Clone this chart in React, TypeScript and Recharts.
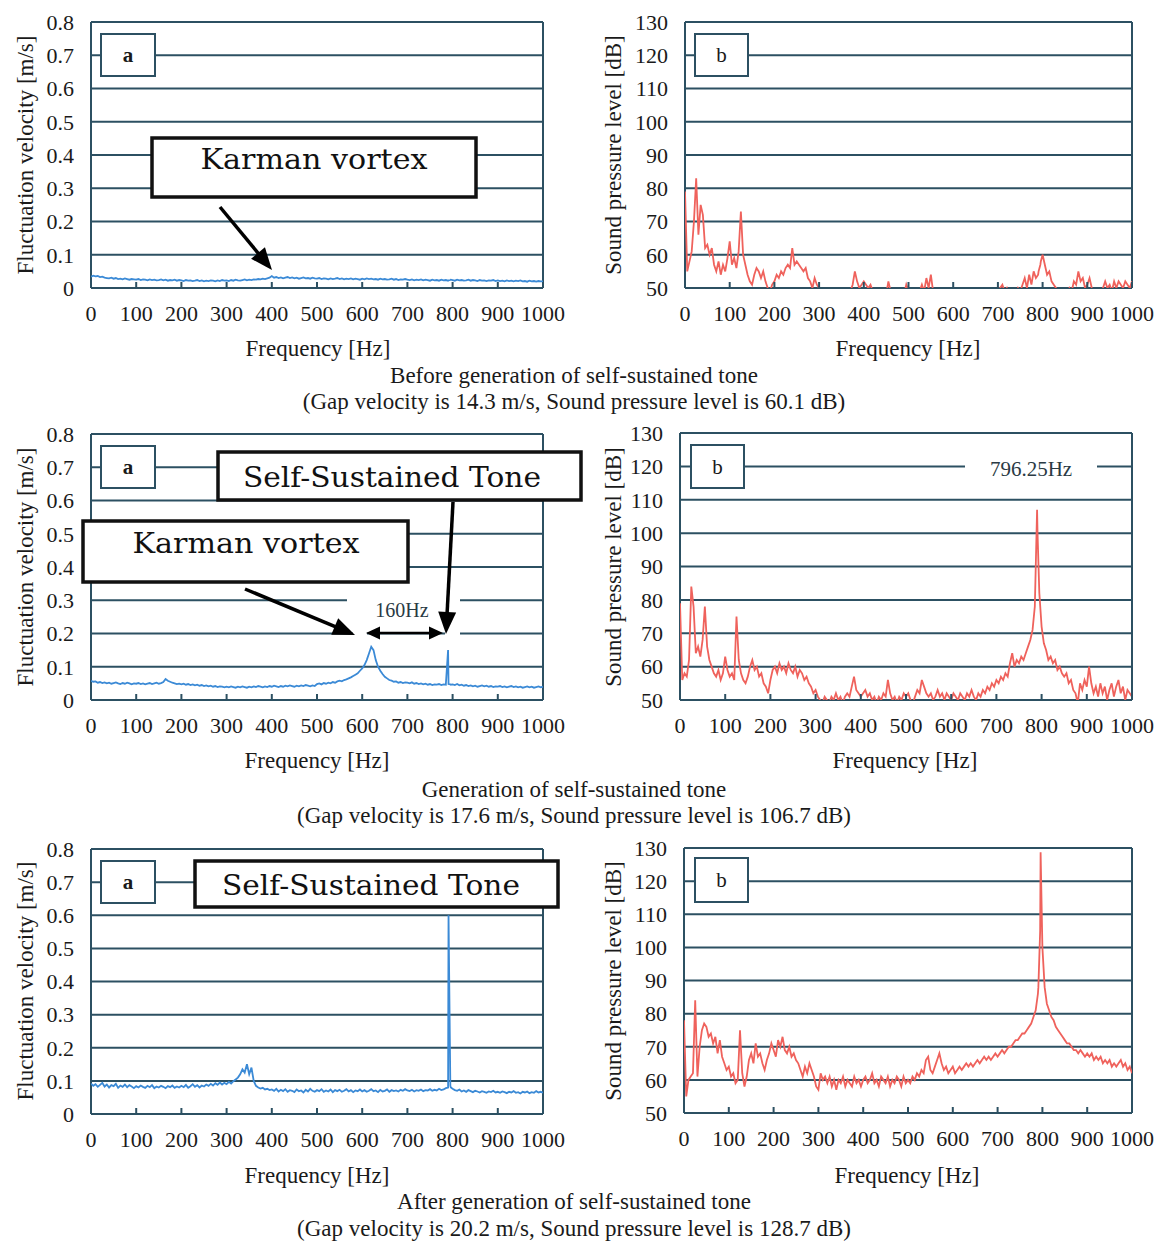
import React from 'react';
import { LineChart, Line, XAxis, YAxis, CartesianGrid } from 'recharts';

// Frequency grid [Hz]
const FREQ = [
  0, 5, 10, 15, 20, 25, 30, 35, 40, 45, 50, 55, 60, 65, 70, 75, 80, 85, 90, 95,
  100, 105, 110, 115, 120, 125, 130, 135, 140, 145, 150, 155, 160, 165, 170, 175, 180, 185, 190, 195,
  200, 205, 210, 215, 220, 225, 230, 235, 240, 245, 250, 255, 260, 265, 270, 275, 280, 285, 290, 295,
  300, 305, 310, 315, 320, 325, 330, 335, 340, 345, 350, 355, 360, 365, 370, 375, 380, 385, 390, 395,
  400, 405, 410, 415, 420, 425, 430, 435, 440, 445, 450, 455, 460, 465, 470, 475, 480, 485, 490, 495,
  500, 505, 510, 515, 520, 525, 530, 535, 540, 545, 550, 555, 560, 565, 570, 575, 580, 585, 590, 595,
  600, 605, 610, 615, 620, 625, 630, 635, 640, 645, 650, 655, 660, 665, 670, 675, 680, 685, 690, 695,
  700, 705, 710, 715, 720, 725, 730, 735, 740, 745, 750, 755, 760, 765, 770, 775, 780, 785, 790, 791, 795, 796,
  800, 805, 810, 815, 820, 825, 830, 835, 840, 845, 850, 855, 860, 865, 870, 875, 880, 885, 890, 895,
  900, 905, 910, 915, 920, 925, 930, 935, 940, 945, 950, 955, 960, 965, 970, 975, 980, 985, 990, 995, 1000,
];

// Before generation: fluctuation velocity [m/s]
const VEL_BEFORE = [
  0.034, 0.037, 0.035, 0.036, 0.033, 0.034, 0.031, 0.030, 0.029, 0.031, 0.028, 0.030, 0.027, 0.028, 0.026, 0.029, 0.027, 0.025, 0.027, 0.026,
  0.025, 0.027, 0.024, 0.026, 0.025, 0.023, 0.026, 0.024, 0.025, 0.023, 0.024, 0.026, 0.023, 0.025, 0.022, 0.024, 0.023, 0.025, 0.022, 0.024,
  0.023, 0.021, 0.024, 0.022, 0.023, 0.021, 0.022, 0.024, 0.021, 0.023, 0.020, 0.022, 0.021, 0.023, 0.022, 0.020, 0.023, 0.021, 0.024, 0.022,
  0.023, 0.021, 0.024, 0.022, 0.025, 0.023, 0.022, 0.024, 0.026, 0.023, 0.025, 0.024, 0.026, 0.025, 0.027, 0.026, 0.028, 0.027, 0.029, 0.031,
  0.036, 0.031, 0.033, 0.030, 0.032, 0.029, 0.031, 0.033, 0.030, 0.032, 0.029, 0.031, 0.028, 0.030, 0.032, 0.029, 0.030, 0.028, 0.031, 0.029,
  0.028, 0.030, 0.027, 0.029, 0.028, 0.026, 0.029, 0.027, 0.028, 0.030, 0.027, 0.029, 0.026, 0.028, 0.027, 0.029, 0.026, 0.028, 0.027, 0.025,
  0.028, 0.026, 0.029, 0.027, 0.028, 0.026, 0.027, 0.025, 0.028, 0.026, 0.027, 0.025, 0.026, 0.028, 0.025, 0.027, 0.024, 0.026, 0.025, 0.027,
  0.025, 0.024, 0.026, 0.023, 0.025, 0.024, 0.026, 0.023, 0.025, 0.024, 0.022, 0.025, 0.023, 0.024, 0.022, 0.025, 0.023, 0.024, 0.022, 0.023, 0.024, 0.025,
  0.024, 0.022, 0.025, 0.023, 0.024, 0.022, 0.023, 0.025, 0.022, 0.024, 0.023, 0.021, 0.024, 0.022, 0.023, 0.021, 0.023, 0.022, 0.024, 0.021,
  0.023, 0.021, 0.022, 0.020, 0.023, 0.021, 0.022, 0.020, 0.022, 0.021, 0.023, 0.020, 0.021, 0.019, 0.022, 0.020, 0.021, 0.019, 0.021, 0.020, 0.020,
];

// Before generation: sound pressure level [dB]
const SPL_BEFORE = [
  79, 55, 58, 61, 70, 83, 66, 75, 72, 62, 63, 60, 62, 57, 55, 58, 54, 57, 55, 59,
  64, 57, 59, 56, 61, 73, 60, 57, 54, 52, 51, 54, 56, 55, 53, 55, 52, 50, 49, 51,
  52, 54, 53, 55, 54, 56, 57, 56, 62, 57, 58, 57, 56, 55, 56, 53, 52, 50, 53, 51,
  50, 48, 47, 48, 46, 47, 48, 46, 47, 45, 47, 46, 48, 47, 49, 51, 55, 52, 50, 51,
  52, 51, 50, 51, 49, 47, 48, 46, 47, 45, 48, 52, 49, 47, 46, 48, 47, 45, 48, 51,
  49, 47, 46, 48, 47, 49, 51, 49, 53, 50, 54, 49, 47, 46, 48, 45, 47, 46, 48, 47,
  49, 47, 46, 45, 47, 46, 48, 45, 46, 44, 47, 46, 45, 47, 46, 48, 46, 47, 48, 49,
  48, 50, 51, 49, 50, 48, 47, 49, 48, 50, 49, 51, 53, 50, 54, 51, 55, 53, 54, 55, 57, 58,
  60, 57, 54, 55, 52, 51, 50, 48, 47, 49, 47, 48, 50, 49, 52, 51, 55, 52, 53, 50,
  51, 53, 50, 48, 47, 49, 48, 50, 52, 50, 51, 49, 52, 50, 52, 51, 50, 52, 51, 50, 52,
];

// Generation: fluctuation velocity [m/s]
const VEL_GEN = [
  0.058, 0.055, 0.056, 0.052, 0.054, 0.051, 0.053, 0.050, 0.052, 0.049, 0.051, 0.053, 0.050, 0.048, 0.051, 0.049, 0.052, 0.050, 0.047, 0.050,
  0.049, 0.051, 0.048, 0.050, 0.047, 0.049, 0.051, 0.048, 0.050, 0.052, 0.049, 0.051, 0.054, 0.063, 0.058, 0.055, 0.052, 0.050, 0.048, 0.049,
  0.047, 0.049, 0.046, 0.048, 0.045, 0.047, 0.044, 0.046, 0.043, 0.045, 0.042, 0.044, 0.041, 0.043, 0.040, 0.042, 0.039, 0.041, 0.040, 0.038,
  0.040, 0.038, 0.041, 0.039, 0.037, 0.040, 0.038, 0.041, 0.039, 0.037, 0.040, 0.038, 0.041, 0.039, 0.042, 0.040, 0.038, 0.041, 0.039, 0.042,
  0.040, 0.043, 0.041, 0.039, 0.042, 0.040, 0.043, 0.041, 0.044, 0.042, 0.040, 0.043, 0.041, 0.044, 0.042, 0.045, 0.043, 0.041, 0.044, 0.042,
  0.048, 0.050, 0.047, 0.051, 0.049, 0.052, 0.050, 0.054, 0.052, 0.056, 0.058, 0.056, 0.060, 0.062, 0.065, 0.068, 0.072, 0.076, 0.080, 0.088,
  0.095, 0.105, 0.120, 0.140, 0.160, 0.150, 0.120, 0.100, 0.088, 0.078, 0.070, 0.065, 0.060, 0.058, 0.055, 0.056, 0.052, 0.054, 0.051, 0.053,
  0.052, 0.050, 0.053, 0.049, 0.051, 0.048, 0.050, 0.047, 0.049, 0.046, 0.048, 0.045, 0.047, 0.046, 0.048, 0.045, 0.047, 0.046, 0.150, 0.048, 0.047, 0.046,
  0.047, 0.045, 0.048, 0.044, 0.046, 0.043, 0.045, 0.042, 0.044, 0.041, 0.043, 0.040, 0.042, 0.044, 0.041, 0.043, 0.040, 0.042, 0.039, 0.041,
  0.040, 0.042, 0.039, 0.041, 0.038, 0.040, 0.042, 0.039, 0.041, 0.038, 0.040, 0.037, 0.039, 0.041, 0.038, 0.040, 0.037, 0.039, 0.041, 0.038, 0.040,
];

// Generation: sound pressure level [dB]
const SPL_GEN = [
  79, 56, 58, 57, 62, 84, 78, 64, 66, 63, 68, 78, 66, 62, 60, 58, 57, 59, 56, 58,
  63, 59, 57, 58, 56, 75, 62, 58, 56, 55, 57, 60, 62, 59, 60, 57, 58, 55, 54, 52,
  56, 59, 60, 58, 61, 59, 60, 58, 61, 59, 58, 60, 57, 59, 58, 56, 57, 55, 54, 52,
  53, 51, 50, 49, 51, 50, 49, 51, 50, 52, 50, 51, 49, 51, 52, 51, 54, 57, 53, 52,
  51, 52, 53, 51, 52, 50, 51, 49, 51, 50, 52, 51, 56, 52, 50, 51, 49, 51, 50, 52,
  51, 52, 50, 49, 51, 53, 52, 56, 54, 52, 51, 52, 50, 51, 53, 51, 52, 50, 52, 51,
  50, 52, 51, 50, 52, 51, 50, 52, 51, 53, 51, 50, 52, 51, 53, 52, 54, 53, 55, 54,
  56, 55, 57, 56, 58, 57, 61, 64, 60, 62, 61, 63, 62, 64, 66, 68, 71, 78, 107, 100, 82, 80,
  72, 67, 65, 62, 63, 61, 62, 59, 60, 58, 57, 58, 55, 56, 53, 52, 49, 55, 53, 56,
  54, 60, 55, 52, 54, 51, 55, 52, 54, 50, 53, 55, 51, 54, 56, 52, 54, 50, 53, 52, 51,
];

// After generation: fluctuation velocity [m/s]
const VEL_AFTER = [
  0.092, 0.085, 0.090, 0.082, 0.088, 0.094, 0.083, 0.089, 0.080, 0.087, 0.084, 0.091, 0.079, 0.086, 0.082, 0.089, 0.081, 0.087, 0.083, 0.078,
  0.084, 0.080, 0.086, 0.082, 0.079, 0.085, 0.081, 0.087, 0.078, 0.083, 0.080, 0.085, 0.082, 0.078, 0.084, 0.081, 0.086, 0.079, 0.083, 0.080,
  0.085, 0.081, 0.088, 0.079, 0.084, 0.090, 0.082, 0.087, 0.080, 0.086, 0.083, 0.089, 0.085, 0.091, 0.086, 0.093, 0.088, 0.095, 0.089, 0.094,
  0.090, 0.097, 0.092, 0.099, 0.104, 0.110, 0.120, 0.135, 0.125, 0.150, 0.120, 0.140, 0.100, 0.085, 0.080, 0.077, 0.079, 0.074, 0.076, 0.072,
  0.074, 0.070, 0.076, 0.068, 0.073, 0.069, 0.075, 0.067, 0.072, 0.070, 0.066, 0.074, 0.069, 0.071, 0.065, 0.073, 0.068, 0.076, 0.070, 0.067,
  0.072, 0.069, 0.075, 0.067, 0.071, 0.068, 0.074, 0.066, 0.072, 0.069, 0.073, 0.067, 0.070, 0.075, 0.068, 0.072, 0.066, 0.071, 0.069, 0.074,
  0.068, 0.072, 0.067, 0.070, 0.075, 0.069, 0.071, 0.066, 0.073, 0.068, 0.070, 0.074, 0.067, 0.072, 0.069, 0.071, 0.068, 0.073, 0.070, 0.075,
  0.071, 0.069, 0.073, 0.068, 0.072, 0.070, 0.074, 0.069, 0.072, 0.071, 0.075, 0.070, 0.073, 0.071, 0.076, 0.072, 0.074, 0.078, 0.080, 0.600, 0.085, 0.080,
  0.076, 0.072, 0.070, 0.074, 0.068, 0.071, 0.067, 0.072, 0.069, 0.066, 0.070, 0.068, 0.065, 0.069, 0.067, 0.064, 0.068, 0.066, 0.070, 0.065,
  0.067, 0.064, 0.068, 0.066, 0.063, 0.067, 0.065, 0.069, 0.064, 0.066, 0.062, 0.067, 0.065, 0.068, 0.063, 0.066, 0.064, 0.069, 0.065, 0.067, 0.064,
];

// After generation: sound pressure level [dB]
const SPL_AFTER = [
  78, 55, 60, 61, 62, 84, 61, 70, 75, 77, 76, 73, 74, 71, 73, 68, 72, 67, 65, 63,
  64, 61, 62, 59, 60, 75, 62, 58, 61, 66, 68, 65, 71, 67, 68, 65, 63, 66, 68, 71,
  69, 67, 72, 70, 73, 69, 68, 70, 67, 68, 66, 65, 63, 61, 64, 62, 65, 63, 61, 58,
  57, 62, 60, 61, 59, 61, 58, 60, 57, 60, 59, 61, 58, 60, 59, 58, 61, 59, 60, 58,
  60, 61, 59, 60, 62, 59, 60, 58, 61, 60, 59, 61, 58, 60, 59, 61, 60, 58, 61, 59,
  60, 59, 61, 60, 62, 61, 63, 62, 66, 67, 63, 62, 64, 66, 68, 65, 63, 64, 62, 63,
  64, 62, 63, 64, 63, 64, 65, 64, 65, 64, 65, 66, 65, 66, 67, 66, 67, 66, 67, 68,
  67, 68, 69, 68, 69, 70, 70, 71, 72, 72, 73, 74, 74, 75, 76, 77, 79, 81, 86, 88, 105, 128.7,
  100, 88, 83, 81, 79, 78, 76, 75, 74, 73, 72, 71, 71, 70, 69, 69, 68, 69, 68, 67,
  68, 67, 68, 66, 67, 66, 67, 65, 66, 65, 66, 64, 65, 64, 65, 66, 64, 65, 63, 64, 62,
];

const X_TICKS = [0, 100, 200, 300, 400, 500, 600, 700, 800, 900, 1000];
const VEL_TICKS = [0, 0.1, 0.2, 0.3, 0.4, 0.5, 0.6, 0.7, 0.8];
const SPL_TICKS = [50, 60, 70, 80, 90, 100, 110, 120, 130];

const ROWS = FREQ.map((f, i) => ({
  f,
  a1: VEL_BEFORE[i],
  b1: SPL_BEFORE[i],
  a2: VEL_GEN[i],
  b2: SPL_GEN[i],
  a3: VEL_AFTER[i],
  b3: SPL_AFTER[i],
}));

const SERIF = "'Liberation Serif', 'Times New Roman', serif";
const NOTE_FONT = "'DejaVu Serif', serif";
const GRID = '#2c5062';
const TXT = '#1a1a1a';
const BLUE = '#3b8ad6';
const RED = '#ef625c';

const PANELS = [
  { key: 'a1', kind: 'a', box: { x1: 91, y1: 22, x2: 543, y2: 288 } },
  { key: 'b1', kind: 'b', box: { x1: 685, y1: 22, x2: 1132, y2: 288 } },
  { key: 'a2', kind: 'a', box: { x1: 91, y1: 434, x2: 543, y2: 700 } },
  { key: 'b2', kind: 'b', box: { x1: 680, y1: 433, x2: 1132, y2: 700 } },
  { key: 'a3', kind: 'a', box: { x1: 91, y1: 849, x2: 543, y2: 1114 } },
  { key: 'b3', kind: 'b', box: { x1: 684, y1: 848, x2: 1132, y2: 1113 } },
];

const XTick = (props: any) => {
  const { x, y, payload } = props;
  return (
    <g>
      <line x1={x} y1={y} x2={x} y2={y - 6} stroke={GRID} strokeWidth={2} />
      <text x={x} y={y + 33} textAnchor="middle" fontFamily={SERIF} fontSize={22} fill={TXT}>
        {payload.value}
      </text>
    </g>
  );
};

function Panel({ p }: { p: any }) {
  const yw = 60, mt = 20, mr = 26, mb = 6, xh = 44;
  const left = p.box.x1 - yw;
  const top = p.box.y1 - mt;
  const width = p.box.x2 + mr - left;
  const height = p.box.y2 + xh + mb - top;
  const isA = p.kind === 'a';
  return (
    <div style={{ position: 'absolute', left, top, width, height }}>
      <LineChart width={width} height={height} data={ROWS} margin={{ top: mt, right: mr, bottom: mb, left: 0 }}>
        <CartesianGrid
          stroke={GRID}
          strokeWidth={2}
          horizontal={true}
          vertical={true}
          verticalCoordinatesGenerator={(args: any) => [args.offset.left, args.offset.left + args.offset.width]}
        />
        <XAxis
          dataKey="f"
          type="number"
          domain={[0, 1000]}
          ticks={X_TICKS}
          interval={0}
          height={xh}
          tickSize={0}
          tickMargin={0}
          axisLine={false}
          tickLine={false}
          tick={<XTick />}
          allowDataOverflow
        />
        <YAxis
          type="number"
          domain={isA ? [0, 0.8] : [50, 130]}
          ticks={isA ? VEL_TICKS : SPL_TICKS}
          interval={0}
          width={yw}
          tickSize={0}
          tickMargin={17}
          axisLine={false}
          tickLine={false}
          tick={{ fontSize: 22, fill: TXT, fontFamily: SERIF }}
          allowDataOverflow
        />
        <Line
          type="linear"
          dataKey={p.key}
          stroke={isA ? BLUE : RED}
          strokeWidth={1.8}
          dot={false}
          activeDot={false}
          isAnimationActive={false}
        />
      </LineChart>
    </div>
  );
}

function Arrow({ x1, y1, x2, y2, head = 22, hw = 18, sw = 3.5, both = false }: any) {
  const dx = x2 - x1, dy = y2 - y1;
  const L = Math.hypot(dx, dy);
  const ux = dx / L, uy = dy / L;
  const px = -uy, py = ux;
  const tri = (tx: number, ty: number, vx: number, vy: number) => {
    const bx = tx - vx * head, by = ty - vy * head;
    return `${tx},${ty} ${bx + (px * hw) / 2},${by + (py * hw) / 2} ${bx - (px * hw) / 2},${by - (py * hw) / 2}`;
  };
  const sx = both ? x1 + ux * head * 0.8 : x1;
  const sy = both ? y1 + uy * head * 0.8 : y1;
  return (
    <g>
      <line x1={sx} y1={sy} x2={x2 - ux * head * 0.8} y2={y2 - uy * head * 0.8} stroke="#000" strokeWidth={sw} />
      <polygon points={tri(x2, y2, ux, uy)} fill="#000" />
      {both && <polygon points={tri(x1, y1, -ux, -uy)} fill="#000" />}
    </g>
  );
}

function LetterBox({ x, y, w, h, label }: any) {
  return (
    <g>
      <rect x={x} y={y} width={w} height={h} fill="#fff" stroke={GRID} strokeWidth={2} />
      <text x={x + w / 2} y={y + h / 2} textAnchor="middle" dominantBaseline="central" fontFamily={SERIF}
        fontSize={21} fontWeight={label === 'a' ? 'bold' : 'normal'} fill={TXT}>
        {label}
      </text>
    </g>
  );
}

function NoteBox({ x, y, w, h, text, tx, ty, len, size }: any) {
  return (
    <g>
      <rect x={x} y={y} width={w} height={h} fill="#fff" stroke="#111" strokeWidth={3.5} />
      <text x={tx} y={ty} textAnchor="middle" fontFamily={NOTE_FONT} fontSize={size} fill="#111"
        textLength={len} lengthAdjust="spacingAndGlyphs">
        {text}
      </text>
    </g>
  );
}

function T({ x, y, children, size = 23, rotate = false }: any) {
  return (
    <text x={x} y={y} textAnchor="middle" dominantBaseline="central" fontFamily={SERIF} fontSize={size} fill={TXT}
      transform={rotate ? `rotate(-90 ${x} ${y})` : undefined}>
      {children}
    </text>
  );
}

function Overlay() {
  return (
    <svg width={1161} height={1241} style={{ position: 'absolute', left: 0, top: 0, pointerEvents: 'none' }}>
      {/* axis titles */}
      <T x={25} y={155} rotate>Fluctuation velocity [m/s]</T>
      <T x={613} y={155} rotate>Sound pressure level [dB]</T>
      <T x={25} y={567} rotate>Fluctuation velocity [m/s]</T>
      <T x={613} y={567} rotate>Sound pressure level [dB]</T>
      <T x={25} y={981} rotate>Fluctuation velocity [m/s]</T>
      <T x={613} y={981} rotate>Sound pressure level [dB]</T>

      <T x={318} y={348}>Frequency [Hz]</T>
      <T x={908} y={348}>Frequency [Hz]</T>
      <T x={317} y={760}>Frequency [Hz]</T>
      <T x={905} y={760}>Frequency [Hz]</T>
      <T x={317} y={1175}>Frequency [Hz]</T>
      <T x={907} y={1175}>Frequency [Hz]</T>

      {/* captions */}
      <T x={574} y={375}>Before generation of self-sustained tone</T>
      <T x={574} y={401}>(Gap velocity is 14.3 m/s, Sound pressure level is 60.1 dB)</T>
      <T x={574} y={789}>Generation of self-sustained tone</T>
      <T x={574} y={815}>(Gap velocity is 17.6 m/s, Sound pressure level is 106.7 dB)</T>
      <T x={574} y={1201}>After generation of self-sustained tone</T>
      <T x={574} y={1228}>(Gap velocity is 20.2 m/s, Sound pressure level is 128.7 dB)</T>

      {/* panel letters */}
      <LetterBox x={101} y={34} w={54} h={42} label="a" />
      <LetterBox x={695} y={34} w={53} h={42} label="b" />
      <LetterBox x={101} y={446} w={54} h={42} label="a" />
      <LetterBox x={691} y={445} w={53} h={43} label="b" />
      <LetterBox x={101} y={861} w={54} h={42} label="a" />
      <LetterBox x={695} y={858} w={53} h={44} label="b" />

      {/* row 1 annotation */}
      <NoteBox x={152} y={138} w={324} h={59} text="Karman vortex" tx={314} ty={169} len={227} size={28} />
      <Arrow x1={220} y1={207} x2={272} y2={270} />

      {/* row 2 annotations */}
      <rect x={347} y={590} width={113} height={36} fill="#fff" />
      <rect x={353} y={626} width={14} height={14} fill="#fff" />
      <rect x={445} y={626} width={15} height={14} fill="#fff" />
      <text x={402} y={610} textAnchor="middle" dominantBaseline="central" fontFamily={SERIF} fontSize={20} fill="#2a3a44">160Hz</text>
      <Arrow x1={366} y1={633} x2={443} y2={633} head={14} hw={13} sw={2.5} both />
      <NoteBox x={218} y={452} w={363} h={48} text="Self-Sustained Tone" tx={392} ty={487} len={298} size={27} />
      <NoteBox x={83} y={521} w={325} h={61} text="Karman vortex" tx={246} ty={553} len={227} size={28} />
      <Arrow x1={245} y1={589} x2={355} y2={635} />
      <Arrow x1={453} y1={502} x2={446} y2={634} />

      <rect x={965} y={455} width={132} height={27} fill="#fff" />
      <text x={1031} y={469} textAnchor="middle" dominantBaseline="central" fontFamily={SERIF} fontSize={21} fill="#2a3a44">796.25Hz</text>

      {/* row 3 annotation */}
      <NoteBox x={195} y={861} w={363} h={46} text="Self-Sustained Tone" tx={371} ty={895} len={298} size={27} />
    </svg>
  );
}

export default function App() {
  return (
    <div style={{ position: 'absolute', left: 0, top: 0, width: 1161, height: 1241, background: '#fff', overflow: 'hidden' }}>
      {PANELS.map((p) => (
        <Panel key={p.key} p={p} />
      ))}
      <Overlay />
    </div>
  );
}
